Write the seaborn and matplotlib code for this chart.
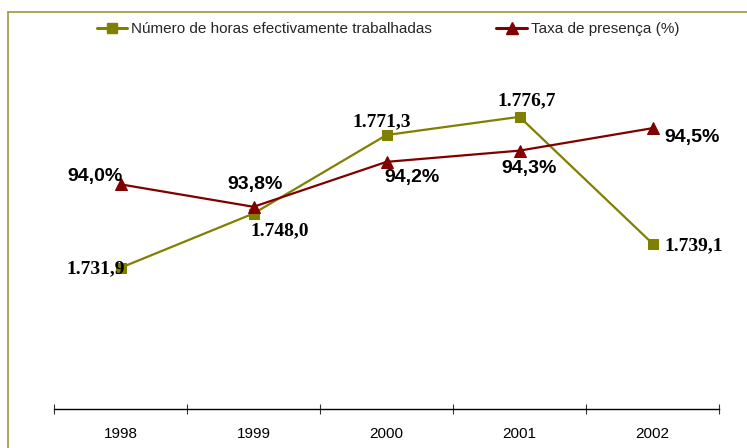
import matplotlib
matplotlib.use("Agg")
import matplotlib.pyplot as plt
import seaborn as sns
import pandas as pd
from matplotlib.lines import Line2D

years = ["1998", "1999", "2000", "2001", "2002"]
horas = [1731.9, 1748.0, 1771.3, 1776.7, 1739.1]
horas_labels = ["1.731,9", "1.748,0", "1.771,3", "1.776,7", "1.739,1"]
presenca = [94.0, 93.8, 94.2, 94.3, 94.5]
presenca_labels = ["94,0%", "93,8%", "94,2%", "94,3%", "94,5%"]

sns.set_theme(style="white")
plt.rcParams["font.family"] = ["Liberation Sans", "DejaVu Sans"]

W, H = 747, 448
fig = plt.figure(figsize=(W / 100, H / 100), dpi=100)
ax = fig.add_axes([54 / W, (H - 409) / H, (719 - 54) / W, (409 - 72) / H])
ax2 = ax.twinx()

olive = "#808000"
dred = "#800000"

df = pd.DataFrame({"pos": range(len(years)), "year": years, "horas": horas, "presenca": presenca})

sns.lineplot(data=df, x="pos", y="horas", ax=ax, color=olive, marker="s", markersize=7,
             linewidth=1.6, markeredgecolor=olive, legend=False)
sns.lineplot(data=df, x="pos", y="presenca", ax=ax2, color=dred, marker="^", markersize=8,
             linewidth=1.6, markeredgecolor=dred, legend=False)

ax.set_xlim(-0.5, len(years) - 0.5)
ax.set_ylim(1690, 1790)
ax2.set_ylim(92, 95)

for a in (ax, ax2):
    a.set_yticks([])
    a.set_ylabel("")
    a.set_xlabel("")
    for s in ("left", "right", "top", "bottom"):
        a.spines[s].set_visible(False)
ax.spines["bottom"].set_visible(True)
ax.spines["bottom"].set_color("black")
ax.spines["bottom"].set_linewidth(1.0)

ax.set_xticks(range(len(years)))
ax.set_xticklabels(years, fontsize=11, color="black")
ax.set_xticks([i - 0.5 for i in range(len(years) + 1)], minor=True)
ax.tick_params(axis="x", which="major", bottom=True, length=0, pad=13)
ax.tick_params(axis="x", which="minor", bottom=True, direction="inout", length=7, width=0.8, color="#333333")
ax2.tick_params(axis="x", which="both", bottom=False, top=False, labelbottom=False)

# data labels
h_off = [(4, -1, "right"), (-3, -17, "left"), (-5, 13, "center"), (7, 16, "center"), (12, -2, "left")]
for i, (lab, (dx, dy, ha)) in enumerate(zip(horas_labels, h_off)):
    ax.annotate(lab, (i, horas[i]), xytext=(dx, dy), textcoords="offset pixels",
                ha=ha, va="center", fontsize=14, fontweight="bold",
                family=["Liberation Serif", "DejaVu Serif"], color="black")

p_off = [(2, 8, "right"), (2, 22, "center"), (-2, -16, "left"), (10, -18, "center"), (12, -9, "left")]
for i, (lab, (dx, dy, ha)) in enumerate(zip(presenca_labels, p_off)):
    ax2.annotate(lab, (i, presenca[i]), xytext=(dx, dy), textcoords="offset pixels",
                 ha=ha, va="center", fontsize=14, fontweight="bold",
                 family=["Liberation Sans", "DejaVu Sans"], color="black")

# legend
handles = [
    Line2D([], [], color=olive, marker="s", markersize=7, linewidth=2.2),
    Line2D([], [], color=dred, marker="^", markersize=8, linewidth=2.2),
]
fig.legend(handles, ["Número de horas efectivamente trabalhadas", "Taxa de presença (%)"],
           loc="center", bbox_to_anchor=(388 / W, 1 - 29 / H), ncol=2, frameon=False,
           fontsize=11, handlelength=2.0, handletextpad=0.25, columnspacing=4.2)

# outer frame
frame_col = "#9a9a40"
fig.add_artist(Line2D([8 / W, 8 / W], [0, 1 - 12 / H], transform=fig.transFigure, color=frame_col, linewidth=1.2))
fig.add_artist(Line2D([8 / W, 1], [1 - 12 / H, 1 - 12 / H], transform=fig.transFigure, color=frame_col, linewidth=1.2))

fig.savefig("out.png", dpi=100, facecolor="white")
